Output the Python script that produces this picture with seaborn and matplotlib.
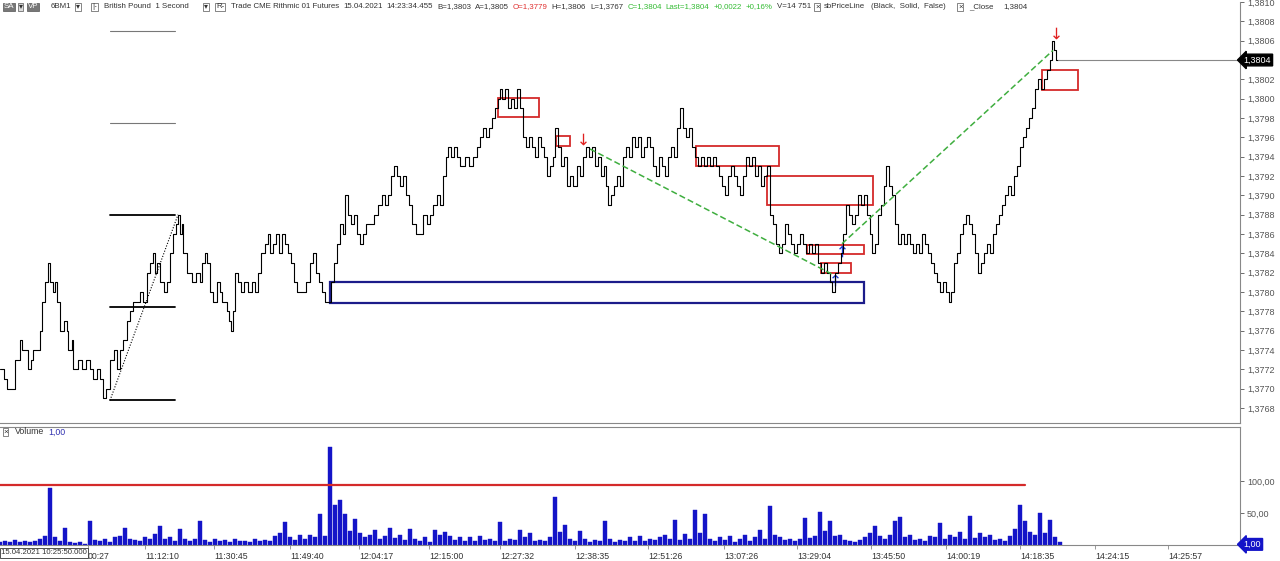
import numpy as np
import pandas as pd
import matplotlib
matplotlib.use("Agg")
import matplotlib.pyplot as plt
from matplotlib.patches import Rectangle
from matplotlib.ticker import FuncFormatter
import seaborn as sns

sns.set_theme(style="white")
plt.rcParams['font.family'] = ['Liberation Sans', 'DejaVu Sans']
hdr_size = 5.7

# --- price trace (bar index, price) ---
price_bar = [0, 4, 7, 12, 15, 20, 22, 27, 28, 31, 33, 38, 40, 42, 45, 48, 50, 53, 55, 57,
             60, 64, 67, 68, 72, 73, 78, 82, 86, 90, 93, 97, 100, 103, 106, 110, 114, 117, 120, 123,
             127, 130, 133, 137, 140, 143, 147, 150, 153, 155, 157, 160, 164, 167, 170, 173, 176, 178, 180, 182,
             183, 187, 192, 196, 200, 202, 205, 207, 210, 213, 217, 220, 222, 227, 229, 231, 233, 235, 238, 241,
             244, 248, 252, 255, 258, 261, 265, 268, 270, 273, 276, 279, 282, 285, 288, 291, 294, 297, 300, 303,
             306, 310, 313, 316, 319, 322, 325, 328, 331, 334, 337, 340, 343, 345, 348, 351, 354, 357, 360, 363,
             366, 370, 374, 378, 382, 385, 388, 391, 394, 397, 400, 403, 406, 409, 412, 416, 420, 423, 427, 430,
             433, 437, 440, 443, 446, 448, 451, 454, 457, 460, 465, 469, 473, 477, 480, 483, 486, 489, 492, 495,
             498, 500, 502, 505, 508, 511, 514, 517, 520, 523, 526, 529, 532, 535, 538, 541, 544, 547, 550, 553,
             555, 558, 561, 564, 567, 570, 573, 577, 580, 583, 586, 589, 592, 595, 598, 601, 604, 606, 608, 611,
             614, 617, 620, 623, 626, 629, 632, 635, 638, 641, 644, 647, 650, 653, 656, 659, 662, 665, 668, 671,
             674, 677, 680, 683, 686, 689, 692, 695, 698, 701, 704, 707, 710, 713, 716, 719, 722, 725, 728, 731,
             734, 737, 740, 743, 746, 749, 752, 755, 758, 761, 764, 767, 770, 773, 776, 779, 782, 785, 788, 791,
             794, 797, 800, 803, 806, 809, 812, 815, 818, 821, 824, 827, 830, 832, 835, 838, 841, 843, 846, 849,
             852, 855, 858, 861, 864, 867, 870, 872, 875, 878, 881, 884, 886, 889, 892, 895, 898, 901, 904, 907,
             910, 913, 916, 919, 922, 925, 928, 931, 934, 937, 940, 943, 946, 949, 951, 954, 957, 960, 963, 966,
             969, 972, 975, 978, 981, 984, 987, 990, 993, 996, 999, 1002, 1005, 1008, 1011, 1014, 1017, 1020, 1023, 1026,
             1029, 1032, 1035, 1038, 1041, 1044, 1047, 1050, 1052, 1054, 1056, 1058]
price_val = [1.3772, 1.3771, 1.3770, 1.3770, 1.3773, 1.3775, 1.3774, 1.3774, 1.3772, 1.3773,
             1.3774, 1.3774, 1.3776, 1.3779, 1.3781, 1.3783, 1.3781, 1.3780, 1.3781, 1.3779,
             1.3776, 1.3777, 1.3776, 1.3774, 1.3775, 1.3772, 1.3773, 1.3772, 1.3773, 1.3772,
             1.3771, 1.3772, 1.3771, 1.3769, 1.3770, 1.3773, 1.3774, 1.3772, 1.3774, 1.3775,
             1.3777, 1.3778, 1.3779, 1.3779, 1.3780, 1.3779, 1.3782, 1.3783, 1.3784, 1.3782,
             1.3783, 1.3781, 1.3780, 1.3781, 1.3784, 1.3786, 1.3787, 1.3788, 1.3786, 1.3787,
             1.3784, 1.3782, 1.3781, 1.3782, 1.3781, 1.3783, 1.3784, 1.3783, 1.3780, 1.3779,
             1.3781, 1.3780, 1.3779, 1.3778, 1.3777, 1.3776, 1.3778, 1.3782, 1.3781, 1.3780,
             1.3781, 1.3780, 1.3781, 1.3780, 1.3782, 1.3784, 1.3785, 1.3786, 1.3784, 1.3785,
             1.3786, 1.3784, 1.3786, 1.3785, 1.3784, 1.3783, 1.3781, 1.3780, 1.3780, 1.3780,
             1.3781, 1.3783, 1.3784, 1.3782, 1.3781, 1.3780, 1.3779, 1.3779, 1.3781, 1.3783,
             1.3785, 1.3787, 1.3786, 1.3790, 1.3788, 1.3787, 1.3788, 1.3786, 1.3785, 1.3786,
             1.3787, 1.3787, 1.3788, 1.3789, 1.3790, 1.3789, 1.3790, 1.3792, 1.3793, 1.3792,
             1.3791, 1.3792, 1.3790, 1.3789, 1.3787, 1.3786, 1.3786, 1.3788, 1.3787, 1.3788,
             1.3789, 1.3790, 1.3789, 1.3792, 1.3794, 1.3795, 1.3794, 1.3795, 1.3794, 1.3793,
             1.3794, 1.3793, 1.3794, 1.3795, 1.3796, 1.3797, 1.3796, 1.3797, 1.3798, 1.3799,
             1.3800, 1.3801, 1.3800, 1.3801, 1.3799, 1.3800, 1.3799, 1.3801, 1.3799, 1.3796,
             1.3795, 1.3796, 1.3795, 1.3794, 1.3796, 1.3795, 1.3794, 1.3792, 1.3793, 1.3794,
             1.3797, 1.3795, 1.3793, 1.3794, 1.3791, 1.3792, 1.3791, 1.3793, 1.3792, 1.3794,
             1.3795, 1.3794, 1.3795, 1.3793, 1.3794, 1.3792, 1.3793, 1.3791, 1.3789, 1.3790,
             1.3791, 1.3792, 1.3791, 1.3794, 1.3795, 1.3794, 1.3796, 1.3795, 1.3796, 1.3794,
             1.3795, 1.3796, 1.3795, 1.3793, 1.3792, 1.3794, 1.3793, 1.3792, 1.3794, 1.3795,
             1.3794, 1.3797, 1.3799, 1.3797, 1.3796, 1.3797, 1.3795, 1.3794, 1.3793, 1.3794,
             1.3793, 1.3794, 1.3793, 1.3794, 1.3793, 1.3792, 1.3791, 1.3790, 1.3792, 1.3793,
             1.3792, 1.3791, 1.3790, 1.3792, 1.3794, 1.3793, 1.3794, 1.3792, 1.3793, 1.3791,
             1.3792, 1.3793, 1.3788, 1.3787, 1.3785, 1.3784, 1.3785, 1.3787, 1.3786, 1.3785,
             1.3784, 1.3785, 1.3786, 1.3785, 1.3784, 1.3785, 1.3784, 1.3785, 1.3783, 1.3782,
             1.3783, 1.3782, 1.3781, 1.3780, 1.3782, 1.3783, 1.3784, 1.3786, 1.3789, 1.3788,
             1.3787, 1.3788, 1.3790, 1.3789, 1.3790, 1.3788, 1.3786, 1.3784, 1.3785, 1.3788,
             1.3789, 1.3791, 1.3793, 1.3791, 1.3790, 1.3787, 1.3785, 1.3786, 1.3785, 1.3786,
             1.3785, 1.3784, 1.3785, 1.3784, 1.3786, 1.3785, 1.3784, 1.3783, 1.3782, 1.3781,
             1.3780, 1.3781, 1.3780, 1.3779, 1.3780, 1.3783, 1.3784, 1.3786, 1.3787, 1.3788,
             1.3787, 1.3786, 1.3784, 1.3782, 1.3783, 1.3784, 1.3785, 1.3784, 1.3786, 1.3787,
             1.3788, 1.3789, 1.3790, 1.3791, 1.3790, 1.3792, 1.3793, 1.3795, 1.3796, 1.3797,
             1.3798, 1.3799, 1.3801, 1.3802, 1.3801, 1.3802, 1.3803, 1.3804, 1.3806, 1.3805,
             1.3804, 1.3804]

# --- volume, one value every 5 bars ---
vol_val = [4, 6, 5, 8, 5, 7, 4, 6, 10, 14, 89, 12, 6, 27, 5, 3, 4, 2, 37, 8,
           6, 10, 5, 12, 14, 27, 10, 8, 6, 12, 9, 17, 29, 10, 13, 6, 25, 9, 7, 10,
           38, 8, 5, 9, 6, 8, 5, 10, 6, 7, 5, 9, 6, 8, 7, 14, 18, 36, 12, 8,
           15, 10, 16, 12, 49, 14, 153, 62, 70, 49, 22, 40, 18, 12, 16, 24, 9, 14, 27, 11,
           16, 8, 25, 10, 6, 12, 5, 23, 15, 20, 14, 8, 13, 7, 12, 6, 14, 8, 9, 6,
           36, 7, 10, 8, 23, 12, 19, 6, 8, 6, 12, 75, 20, 32, 9, 7, 22, 10, 5, 8,
           6, 37, 9, 5, 8, 6, 12, 7, 14, 6, 10, 8, 13, 16, 10, 39, 8, 17, 10, 54,
           18, 49, 10, 6, 12, 8, 14, 5, 9, 16, 7, 12, 23, 10, 61, 15, 12, 8, 10, 6,
           9, 42, 11, 14, 51, 22, 37, 14, 16, 8, 6, 5, 8, 12, 18, 29, 14, 10, 16, 38,
           43, 12, 15, 8, 10, 6, 14, 12, 35, 10, 16, 12, 20, 9, 45, 11, 18, 12, 16, 8,
           10, 6, 14, 25, 62, 38, 20, 16, 50, 18, 39, 12, 5]
vol_bar = list(range(0, 5 * len(vol_val), 5))
vol_level = 93

# --- drawings on the chart ---
fib_levels = [1.3807, 1.37975, 1.3788, 1.37785, 1.37688]
fib_start, fib_end = 110, 175
red_zones = [(498, 539, 1.37981, 1.38001), (556, 570, 1.37951, 1.37961),
             (696, 779, 1.37930, 1.37951), (767, 873, 1.37890, 1.37920),
             (807, 864, 1.37839, 1.37849), (821, 851, 1.37820, 1.37830),
             (1042, 1078, 1.38009, 1.38030)]
blue_zone = (330, 864, 1.37789, 1.37810)
trend_down = ([590, 833], [1.37948, 1.37818])
trend_up = ([842, 1053], [1.37850, 1.38050])
fib_line = ([110, 178], [1.37688, 1.37880])
sell_marks = ([583, 1056], [1.37958, 1.38068])
buy_marks = ([842, 835], [1.37842, 1.37812])
last_price = 1.3804

time_pos = [88, 145, 214, 290, 359, 429, 500, 575, 648, 724, 797, 871, 946, 1020, 1095, 1168]
time_lbl = ["00:27", "11:12:10", "11:30:45", "11:49:40", "12:04:17", "12:15:00", "12:27:32",
            "12:38:35", "12:51:26", "13:07:26", "13:29:04", "13:45:50", "14:00:19", "14:18:35",
            "14:24:15", "14:25:57"]

W, H = 1280, 561
fig = plt.figure(figsize=(W / 100, H / 100), dpi=100)
fig.patch.set_facecolor("white")

def px_box(x0, y0, x1, y1):
    return [x0 / W, 1 - y1 / H, (x1 - x0) / W, (y1 - y0) / H]

ax = fig.add_axes(px_box(0, 2, 1240, 423))
axv = fig.add_axes(px_box(0, 427, 1240, 545))

y_top = last_price + (57 - 2) / 97500
y_bot = last_price - (423 - 57) / 97500

price_df = pd.DataFrame({"bar": price_bar, "price": price_val})
sns.lineplot(data=price_df, x="bar", y="price", ax=ax, color="black", lw=0.8,
             drawstyle="steps-post", estimator=None, sort=False)

# fibonacci levels
for i, lv in enumerate(fib_levels):
    ax.plot([fib_start, fib_end], [lv, lv], color="black" if i >= 2 else "#777777",
            lw=1.3 if i >= 2 else 0.8)
ax.plot(*fib_line, color="black", lw=0.8, ls=(0, (1, 1.5)))

for x0, x1, lo, hi in red_zones:
    ax.add_patch(Rectangle((x0, lo), x1 - x0, hi - lo, fill=False, ec="#d42a2a", lw=1.3))
bx0, bx1, blo, bhi = blue_zone
ax.add_patch(Rectangle((bx0, blo), bx1 - bx0, bhi - blo, fill=False, ec="#1c1c8a", lw=1.6))

ax.plot(*trend_down, color="#3fae3f", lw=1.1, ls=(0, (4, 2)))
ax.plot(*trend_up, color="#3fae3f", lw=1.1, ls=(0, (4, 2)))

sns.scatterplot(x=sell_marks[0], y=sell_marks[1], ax=ax, marker=r"$\downarrow$", s=70,
                color="#e02020", linewidth=0)
sns.scatterplot(x=buy_marks[0], y=buy_marks[1], ax=ax, marker=r"$\uparrow$", s=70,
                color="#1a3ad0", linewidth=0)

ax.plot([price_bar[-1], 1240], [last_price, last_price], color="#888888", lw=0.8)

ax.set_xlim(0, 1240)
ax.set_ylim(y_bot, y_top)
ax.set_xlabel("")
ax.set_ylabel("")
ax.set_xticks([])
ax.yaxis.tick_right()
ax.set_yticks(np.arange(1.3768, 1.38101, 0.0002))
# the last-price flag sits on the 1,3804 tick, so that tick label is left blank
ax.yaxis.set_major_formatter(FuncFormatter(
    lambda v, p: "" if abs(v - last_price) < 1e-6 else f"{v:.4f}".replace(".", ",")))
ax.tick_params(axis="y", right=True, length=3, width=0.6, color="#555555",
               labelsize=6.5, labelcolor="#555555", pad=2)
for s in ["left", "top"]:
    ax.spines[s].set_visible(False)
for s in ["right", "bottom"]:
    ax.spines[s].set_color("#888888")
    ax.spines[s].set_linewidth(0.8)
ax.text(1.003, last_price, "1,3804", transform=ax.get_yaxis_transform(), va="center",
        ha="left", fontsize=6.5, color="white",
        bbox=dict(boxstyle="larrow,pad=0.15", fc="black", ec="black"))

# volume pane
vol_df = pd.DataFrame({"bar": vol_bar, "volume": vol_val})
sns.barplot(data=vol_df, x="bar", y="volume", ax=axv, native_scale=True, color="#1414c8",
            width=0.7, errorbar=None, saturation=1, edgecolor="#1414c8", linewidth=0.3)
axv.plot([0, 1025], [vol_level, vol_level], color="#d42a2a", lw=1.6)
axv.set_xlim(0, 1240)
axv.set_ylim(0, (545 - 427) / 0.64)
axv.set_xlabel("")
axv.set_ylabel("")
axv.yaxis.tick_right()
axv.set_yticks([50, 100])
axv.set_yticklabels(["50,00", "100,00"])
axv.tick_params(axis="y", right=True, length=3, width=0.6, color="#555555",
                labelsize=6.5, labelcolor="#555555", pad=2)
axv.set_xticks(time_pos)
axv.set_xticklabels(time_lbl)
axv.tick_params(axis="x", bottom=True, length=3, width=0.6, color="#888888",
                labelsize=6.3, labelcolor="#333333", pad=2)
for lbl in axv.get_xticklabels():
    lbl.set_ha("left")
for s in ["left"]:
    axv.spines[s].set_visible(False)
for s in ["right", "bottom", "top"]:
    axv.spines[s].set_color("#888888")
    axv.spines[s].set_linewidth(0.8)
axv.text(1.003, 1, "1,00", transform=axv.get_yaxis_transform(), va="center", ha="left",
         fontsize=6.5, color="white",
         bbox=dict(boxstyle="larrow,pad=0.15", fc="#1414c8", ec="#1414c8"))

fig.text(1 / W, 1 - 553 / H, "15.04.2021 10:25:50.000", fontsize=5.6, color="#333333",
         va="center", ha="left",
         bbox=dict(boxstyle="square,pad=0.15", fc="white", ec="#333333", lw=0.6))

# volume caption
fig.text(3 / W, 1 - 432 / H, "×", fontsize=6, color="#333333", va="center",
         bbox=dict(boxstyle="square,pad=0.05", fc="white", ec="#555555", lw=0.5))
fig.text(15 / W, 1 - 432 / H, "Volume", fontsize=6.3, color="#333333", va="center")
fig.text(48 / W, 1 - 432 / H, "1,00", fontsize=6.3, color="#3030b0", va="center")

# header strip: each piece starts at its place in the screenshot, or just after the previous one
header = [(2, "SA", "#ffffff", "#777777"), (16, "▾", "#333333", "#dddddd"), (28, "VP", "#ffffff", "#777777"),
          (51, "6BM1", "#333333", None), (76, "▾", "#333333", "#ffffff"), (92, "|-", "#333333", "#ffffff"),
          (104, "British Pound  1 Second", "#333333", None), (204, "▾", "#333333", "#ffffff"),
          (216, "R-", "#333333", "#ffffff"), (231, "Trade CME Rithmic 01 Futures", "#333333", None),
          (329, "15.04.2021", "#333333", None), (368, "14:23:34.455", "#333333", None),
          (413, "B=1,3803", "#333333", None),
          (449, "A=1,3805", "#333333", None), (484, "O=1,3779", "#e03030", None),
          (520, "H=1,3806", "#333333", None), (555, "L=1,3767", "#333333", None),
          (591, "C=1,3804", "#33bb33", None), (658, "Last=1,3804", "#33bb33", None),
          (711, "+0,0022", "#33bb33", None), (744, "+0,16%", "#33bb33", None),
          (775, "V=14 751", "#333333", None), (813, "×", "#333333", "#ffffff"),
          (823, "sbPriceLine", "#333333", None), (871, "(Black,  Solid,  False)", "#333333", None),
          (958, "×", "#333333", "#ffffff"), (969, "_Close", "#333333", None), (1003, "1,3804", "#333333", None)]
renderer = fig.canvas.get_renderer()
prev_end = 0
for hx, htxt, hcol, hbg in header:
    kw = {}
    if hbg is not None:
        kw["bbox"] = dict(boxstyle="square,pad=0.1", fc=hbg, ec="#555555", lw=0.5)
    start = max(hx, prev_end + 4)
    t = fig.text(start / W, 1 - 7 / H, htxt, fontsize=hdr_size, color=hcol,
                 va="center", ha="left", **kw)
    prev_end = t.get_window_extent(renderer).x1

fig.savefig("out.png", dpi=100, facecolor="white")
